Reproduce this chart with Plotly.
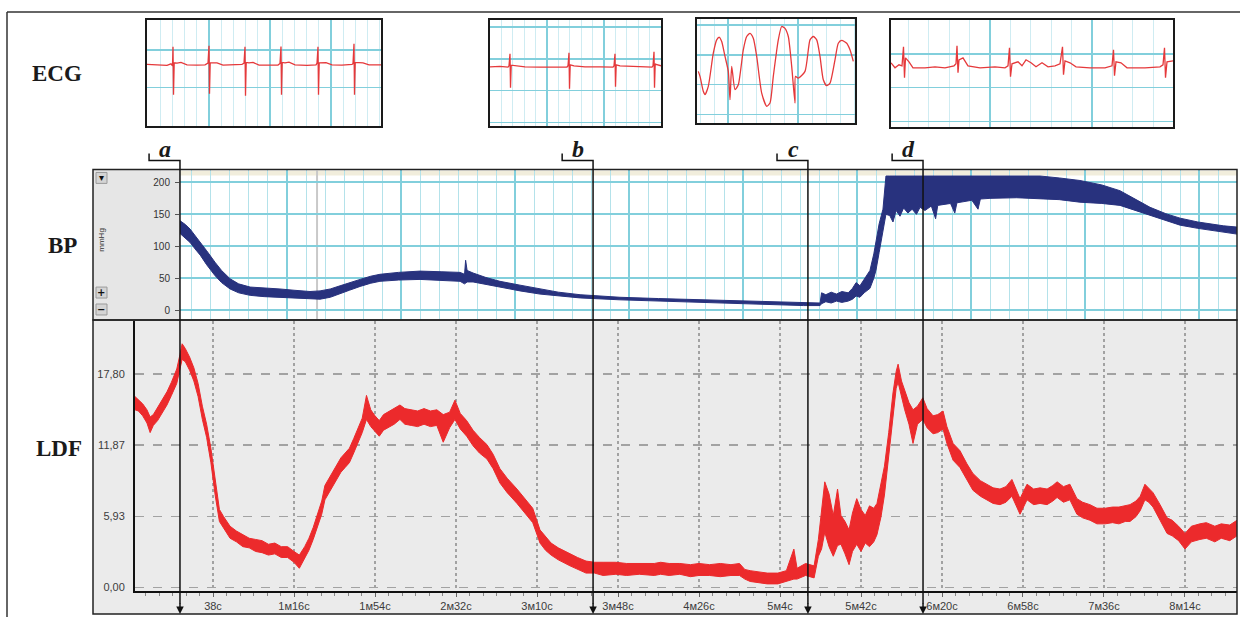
import plotly.graph_objects as go

W, H = 1240, 619


def px(x):
    return x / W


def py(y):
    return 1 - y / H


# ---------------- LDF (perfusion units) : time [s], lower / upper envelope ----------------
ldf_t = [1.4, 3, 5, 7, 8.5, 10, 12, 14, 16.4, 18.5, 21, 22.5, 23.5, 25, 27, 29, 31, 33, 35, 37,
         39, 41, 43, 46, 49, 52, 55, 58, 61, 64, 67, 70, 73, 76, 78.5, 81, 83, 85, 87, 89,
         90.5, 92.5, 94.3, 96, 98, 100, 102, 104, 106, 108, 110, 112, 114, 116, 118, 120, 123, 125.7, 128, 131,
         134, 137, 140, 143, 146, 149, 151.5, 154, 157, 160, 163, 166.5, 169.4, 172.6, 176, 180.6, 185.3, 188, 191.4, 194,
         196.6, 200, 205.5, 209, 213, 217, 221, 227, 232, 238, 245, 248, 252, 257, 262, 266, 271, 276, 281, 285,
         287.5, 290, 294, 298, 303, 307, 310.5, 312, 316, 320, 322, 323.5, 325, 327, 329, 331, 332.6, 334.5, 336.4, 338,
         340, 342, 344, 346, 348, 349.5, 351.4, 353, 355, 357, 358.5, 359.4, 361, 362.5, 364.5, 366.4, 368.5, 371, 373, 375.8,
         378, 380.5, 382.3, 385.2, 388.4, 391.7, 394.5, 398, 401, 404, 407.2, 410, 412.8, 415, 416.6, 419.9, 423, 426, 429.3, 432,
         434, 437, 440, 443.3, 446, 449.4, 452.7, 456.5, 460, 463, 466, 468.2, 471, 473, 475.2, 477, 479, 482.3, 485.6, 488,
         491, 494, 497, 501, 504, 508, 511, 515, 518.4]
ldf_lo = [14.8, 14.7, 14.3, 13.7, 12.9, 13.5, 13.9, 14.5, 15.2, 16.0, 17.0, 18.2, 19.0, 18.8, 18.1, 17.2, 15.9, 14.0, 12.5, 10.4,
          7.7, 5.5, 4.9, 4.1, 3.8, 3.4, 3.3, 3.0, 2.9, 2.7, 2.8, 2.5, 2.5, 2.1, 1.6, 2.4, 3.1, 4.0, 5.0, 6.1,
          7.3, 7.9, 8.4, 9.0, 9.6, 10.0, 10.4, 11.2, 12.0, 12.9, 14.0, 13.4, 13.0, 12.6, 13.1, 13.3, 13.6, 14.0, 13.6, 13.5,
          13.4, 13.6, 13.4, 13.5, 12.1, 13.3, 14.0, 13.2, 12.6, 11.8, 11.2, 10.7, 9.9, 8.7, 7.9, 7.0, 6.0, 5.4, 3.7, 3.1,
          2.7, 2.3, 1.8, 1.5, 1.2, 1.2, 1.0, 1.1, 1.0, 1.1, 1.0, 1.1, 1.0, 1.1, 0.9, 1.0, 1.0, 0.9, 1.0, 1.0,
          0.7, 0.5, 0.4, 0.3, 0.3, 0.5, 0.7, 0.7, 1.0, 0.8, 2.6, 3.2, 4.6, 3.4, 2.6, 3.5, 3.6, 2.8, 1.9, 3.0,
          3.6, 3.0, 3.7, 3.4, 3.8, 4.4, 5.9, 7.7, 10.9, 14.6, 16.6, 17.1, 15.8, 14.8, 13.6, 12.0, 13.6, 14.0, 13.3, 12.8,
          12.9, 13.2, 12.0, 10.6, 10.0, 8.9, 8.1, 7.6, 7.3, 7.0, 6.9, 7.1, 7.6, 6.8, 6.1, 7.3, 6.9, 7.0, 6.9, 7.2,
          7.5, 7.1, 7.3, 6.1, 5.8, 5.6, 5.3, 5.3, 5.4, 5.3, 5.5, 5.5, 5.9, 6.4, 7.3, 7.1, 6.7, 5.6, 4.5, 4.3,
          3.9, 3.2, 3.8, 4.0, 4.1, 3.8, 4.1, 3.9, 4.3]
ldf_hi = [15.9, 15.6, 15.3, 14.8, 14.2, 14.4, 15.0, 15.6, 16.3, 17.1, 18.2, 19.4, 20.3, 19.9, 19.2, 18.3, 17.0, 15.1, 13.6, 11.6,
          8.8, 6.5, 5.9, 5.1, 4.7, 4.4, 4.1, 4.0, 3.9, 3.6, 3.7, 3.4, 3.4, 3.0, 2.7, 3.4, 4.1, 5.0, 6.1, 7.2,
          8.5, 9.1, 9.6, 10.2, 10.8, 11.2, 11.6, 12.4, 13.2, 14.1, 16.0, 14.8, 14.3, 13.9, 14.4, 14.6, 14.9, 15.2, 14.9, 14.8,
          14.7, 14.9, 14.7, 14.8, 14.4, 14.6, 15.6, 14.5, 13.9, 13.1, 12.5, 11.9, 11.1, 9.9, 9.1, 8.2, 7.2, 6.6, 4.8, 4.2,
          3.7, 3.3, 2.8, 2.5, 2.2, 2.1, 2.1, 2.1, 2.0, 2.0, 2.0, 2.1, 2.0, 2.0, 1.9, 2.0, 1.9, 2.0, 1.9, 2.0,
          1.5, 1.4, 1.3, 1.2, 1.2, 1.4, 3.2, 1.6, 2.0, 1.8, 4.0, 6.5, 8.8, 7.8, 6.0, 8.2, 6.0, 5.5, 4.8, 6.2,
          7.4, 6.5, 6.0, 6.8, 6.6, 7.0, 8.6, 10.1, 12.9, 16.2, 18.0, 18.6, 17.2, 16.4, 15.4, 14.8, 15.1, 15.8, 14.9, 14.3,
          14.4, 14.7, 13.4, 12.0, 11.4, 10.3, 9.5, 8.9, 8.6, 8.3, 8.2, 8.4, 9.0, 8.0, 7.4, 8.6, 8.2, 8.3, 8.2, 8.5,
          8.8, 8.4, 8.6, 7.4, 7.1, 6.9, 6.6, 6.6, 6.7, 6.7, 6.8, 6.9, 7.2, 7.6, 8.6, 8.3, 7.9, 6.9, 5.8, 5.6,
          5.1, 4.5, 5.1, 5.3, 5.4, 5.1, 5.3, 5.2, 5.6]

# ---------------- BP (mmHg): time [s], diastolic / systolic envelope ----------------
bp_t = [22.5, 25, 27.2, 30, 32, 35, 38.9, 42, 46, 50, 55.4, 62, 69.4, 76, 83.5, 88.2, 93, 97.6, 102, 107,
        112, 116.3, 125, 135.1, 145, 153.9, 156.0, 156.5, 157.2, 160, 166, 172.6, 182, 191.4, 200, 210.2, 228.9, 247, 266.5, 294.6,
        315, 322.8, 323.5, 325.5, 328, 330.5, 333, 336, 338, 339.7, 341.5, 343.5, 346.2, 348, 349, 350.5, 352.3, 353.7, 355.5, 357,
        358.5, 360.3, 362, 364, 366, 368, 369.7, 372, 375, 377, 378, 384, 386, 387, 394, 396.9, 398, 402.5, 415, 426,
        435, 444.7, 455, 463.5, 470, 477.6, 485, 491.7, 500, 505.7, 512, 518.4]
bp_lo = [120, 113, 106, 94, 86, 71, 54, 43, 33, 27, 23, 21, 20, 19, 17, 17, 20, 25, 31, 37,
         42, 45, 47, 48, 47, 45, 41, 42, 44, 44, 40, 36, 30, 25, 22, 19, 16, 14, 12, 9,
         7, 7, 10, 13, 11, 14, 12, 14, 17, 22, 20, 27, 34, 50, 62, 90, 122, 150, 148, 138,
         156, 147, 160, 152, 158, 150, 161, 156, 163, 143, 164, 167, 152, 168, 172, 158, 174, 175, 176, 175,
         173, 169, 167, 164, 157, 148, 140, 133, 128, 125, 122, 119]
bp_hi = [140, 134, 127, 115, 107, 93, 75, 62, 49, 41, 36, 35, 33, 31, 29, 30, 33, 38, 43, 48,
         53, 56, 59, 61, 60, 59, 56, 78, 62, 58, 51, 45, 39, 33, 28, 24, 20, 18, 16, 13,
         11, 11, 27, 24, 28, 25, 29, 27, 34, 43, 38, 49, 62, 88, 108, 135, 158, 210, 210, 210,
         210, 210, 210, 210, 210, 210, 210, 210, 210, 210, 210, 210, 210, 210, 210, 210, 210, 210, 210, 210,
         207, 203, 196, 187, 175, 161, 151, 144, 138, 135, 132, 130]

# ---------------- ECG snippets: time [s], voltage [mV] ----------------
ecg1_t = [0.00, 0.10, 0.20, 0.24, 0.255, 0.26, 0.265, 0.272, 0.30, 0.34, 0.40, 0.50, 0.58, 0.61, 0.62, 0.625, 0.632, 0.66,
          0.70, 0.76, 0.86, 0.95, 0.97, 0.98, 0.985, 0.992, 1.02, 1.06, 1.12, 1.22, 1.31, 1.33, 1.34, 1.345, 1.352, 1.38,
          1.42, 1.48, 1.60, 1.69, 1.70, 1.71, 1.715, 1.722, 1.75, 1.79, 1.85, 1.95, 2.05, 2.06, 2.07, 2.075, 2.082, 2.12,
          2.16, 2.22, 2.34]
ecg1_v = [0.02, 0.00, -0.03, 0.05, -0.05, 0.90, -1.50, 0.10, 0.08, 0.12, 0.00, -0.02, 0.00, 0.08, 0.95, -1.45, 0.10, 0.10,
          0.10, -0.02, 0.00, 0.02, 0.08, 0.90, -1.55, 0.12, 0.10, 0.12, -0.02, 0.00, -0.01, 0.07, 0.92, -1.50, 0.12, 0.10,
          0.13, 0.00, -0.03, 0.00, 0.08, 0.90, -1.50, 0.10, 0.10, 0.11, 0.00, -0.02, 0.02, 0.06, 1.05, -1.50, 0.12, 0.10,
          0.10, 0.00, 0.00]
ecg2_t = [0.00, 0.10, 0.18, 0.19, 0.20, 0.205, 0.212, 0.25, 0.35, 0.50, 0.65, 0.77, 0.78, 0.79, 0.795, 0.802, 0.84,
          0.95, 1.10, 1.23, 1.24, 1.25, 1.255, 1.262, 1.30, 1.45, 1.62, 1.63, 1.64, 1.645, 1.652, 1.66, 1.71]
ecg2_v = [0.00, 0.02, -0.02, 0.05, 0.65, -1.05, 0.08, 0.05, 0.00, -0.02, 0.00, -0.01, 0.05, 0.70, -1.10, 0.10, 0.05,
          0.00, 0.00, -0.02, 0.05, 0.65, -1.00, 0.10, 0.05, 0.00, -0.02, 0.05, 0.75, -1.05, 0.15, 0.12, 0.05]
ecg3_t = [0.013, 0.03, 0.063, 0.08, 0.113, 0.163, 0.197, 0.223, 0.247, 0.28, 0.313, 0.33, 0.347, 0.38, 0.413, 0.463,
          0.497, 0.53, 0.563, 0.597, 0.647, 0.697, 0.73, 0.763, 0.813, 0.847, 0.88, 0.913, 0.947, 0.98, 0.985, 1.013,
          1.08, 1.13, 1.163, 1.197, 1.23, 1.263, 1.297, 1.33, 1.38, 1.413, 1.447, 1.497, 1.53, 1.563]
ecg3_v = [-0.03, -0.28, -1.03, -1.20, -0.78, 0.88, 1.55, 1.68, 1.47, 0.72, -0.03, -1.45, 0.22, -0.95, -0.70, 1.05,
          1.72, 1.88, 1.63, 0.72, -1.12, -1.78, -1.62, -0.28, 1.55, 2.22, 2.13, 1.72, 0.22, -1.62, -0.28, -0.37,
          -0.03, 1.55, 1.72, 1.55, 0.72, -0.45, -0.75, -0.62, 0.55, 1.38, 1.52, 1.38, 1.05, 0.47]
ecg4_t = [0.00, 0.04, 0.08, 0.11, 0.125, 0.135, 0.145, 0.18, 0.22, 0.34, 0.44, 0.54, 0.63, 0.65, 0.66, 0.67, 0.68, 0.72,
          0.77, 0.89, 1.04, 1.14, 1.17, 1.185, 1.195, 1.21, 1.27, 1.31, 1.35, 1.40, 1.45, 1.51, 1.57, 1.64, 1.69, 1.715,
          1.725, 1.74, 1.79, 1.85, 1.99, 2.14, 2.21, 2.225, 2.235, 2.25, 2.30, 2.36, 2.54, 2.69, 2.72, 2.735, 2.745, 2.76,
          2.82]
ecg4_v = [0.20, -0.05, 0.10, 0.05, 1.00, -0.55, 0.45, 0.25, -0.05, -0.05, 0.00, -0.05, 0.05, 0.15, 1.05, -0.30, 0.35, 0.45,
          0.05, -0.05, 0.00, -0.05, 0.05, 0.95, -0.50, 0.15, 0.25, 0.05, 0.35, 0.20, 0.00, 0.20, 0.00, 0.05, 0.15, 1.00,
          -0.40, 0.30, 0.20, 0.00, -0.05, -0.05, 0.05, 0.85, -0.45, 0.25, 0.20, -0.05, -0.05, 0.00, 0.10, 0.95, -0.55, 0.25,
          0.30]

# ---------------- markers and tick labels ----------------
marker_t = [22.5, 216.3, 317.1, 371.1]
marker_lbl = ["a", "b", "c", "d"]

time_tickvals = [38, 76, 114, 152, 190, 228, 266, 304, 342, 380, 418, 456, 494]
time_ticktext = ["38с", "1м16с", "1м54с", "2м32с", "3м10с", "3м48с", "4м26с",
                 "5м4с", "5м42с", "6м20с", "6м58с", "7м36с", "8м14с"]
ldf_tickvals = [0, 5.93, 11.87, 17.80]
ldf_ticktext = ["0,00", "5,93", "11,87", "17,80"]
bp_tickvals = [0, 50, 100, 150, 200]

assert len(ldf_t) == len(ldf_lo) == len(ldf_hi)
assert len(bp_t) == len(bp_lo) == len(bp_hi)
assert len(ecg1_t) == len(ecg1_v) and len(ecg2_t) == len(ecg2_v)
assert len(ecg3_t) == len(ecg3_v) and len(ecg4_t) == len(ecg4_v)

RED = "#ec2a2c"
NAVY = "#28327e"
ECG_RED = "#e5393b"
CYAN = "#82cfdc"
CYAN_L = "#b4e2ea"

fig = go.Figure()

# LDF band
fig.add_trace(go.Scatter(x=ldf_t, y=ldf_lo, mode="lines", line=dict(color=RED, width=1),
                         xaxis="x", yaxis="y", hoverinfo="skip"))
fig.add_trace(go.Scatter(x=ldf_t, y=ldf_hi, mode="lines", line=dict(color=RED, width=1),
                         fill="tonexty", fillcolor=RED, xaxis="x", yaxis="y", hoverinfo="skip"))
# BP band
fig.add_trace(go.Scatter(x=bp_t, y=bp_lo, mode="lines", line=dict(color=NAVY, width=1),
                         xaxis="x2", yaxis="y2", hoverinfo="skip"))
fig.add_trace(go.Scatter(x=bp_t, y=bp_hi, mode="lines", line=dict(color=NAVY, width=1),
                         fill="tonexty", fillcolor=NAVY, xaxis="x2", yaxis="y2", hoverinfo="skip"))
# ECG snippets
ecg_series = [(ecg1_t, ecg1_v, "linear"), (ecg2_t, ecg2_v, "linear"),
              (ecg3_t, ecg3_v, "spline"), (ecg4_t, ecg4_v, "linear")]
for i, (tt, vv, shp) in enumerate(ecg_series):
    n = i + 3
    fig.add_trace(go.Scatter(x=tt, y=vv, mode="lines",
                             line=dict(color=ECG_RED, width=1.3, shape=shp, smoothing=0.6),
                             xaxis=f"x{n}", yaxis=f"y{n}", hoverinfo="skip"))

tickfont = dict(family="Liberation Sans", size=11, color="#3c3c3c")

layout = dict(
    width=W, height=H, autosize=False,
    margin=dict(l=0, r=0, t=0, b=0),
    paper_bgcolor="white", plot_bgcolor="rgba(0,0,0,0)",
    showlegend=False, hovermode=False, dragmode=False,
    xaxis=dict(domain=[px(135), px(1237)], range=[1.4, 518.4], anchor="y",
               tickmode="array", tickvals=time_tickvals, ticktext=time_ticktext,
               ticks="outside", ticklen=4, tickcolor="#666", tickfont=tickfont,
               showgrid=True, gridcolor="#a2a2a2", griddash="dot", gridwidth=1.5,
               minor=dict(tickmode="linear", tick0=0, dtick=38 / 6, ticks="outside",
                          ticklen=3, tickcolor="#888", showgrid=False),
               showline=True, linecolor="#111", linewidth=2, zeroline=False, fixedrange=True),
    yaxis=dict(domain=[py(593), py(322)], range=[-0.3, 22.2], anchor="x",
               tickmode="array", tickvals=ldf_tickvals, ticktext=ldf_ticktext,
               ticks="", tickfont=tickfont, ticklabelstandoff=6,
               showgrid=True, gridcolor="#a2a2a2", griddash="dash", gridwidth=1.5,
               showline=True, linecolor="#111", linewidth=2, zeroline=False, fixedrange=True),
    xaxis2=dict(domain=[px(180), px(1237)], range=[22.5, 518.4], anchor="y2",
                showticklabels=False, ticks="", tickmode="linear", tick0=72.7, dtick=53.5,
                showgrid=True, gridcolor=CYAN, gridwidth=2,
                minor=dict(tickmode="linear", tick0=72.7, dtick=53.5 / 6, showgrid=True,
                           gridcolor=CYAN_L, gridwidth=1),
                showline=False, zeroline=False, fixedrange=True),
    yaxis2=dict(domain=[py(320), py(171)], range=[-14, 218.75], anchor="x2",
                tickmode="array", tickvals=bp_tickvals, ticks="outside", ticklen=4,
                tickcolor="#555", ticklabelstandoff=3,
                tickfont=dict(family="Liberation Sans", size=10, color="#333"),
                showgrid=True, gridcolor=CYAN, gridwidth=2,
                showline=False, zeroline=False, fixedrange=True),
)

ecg_boxes = [
    # n, x0, x1, ytop, ybottom, xrange, yrange, xtick0, xdtick, xminor, ytick0, ydtick
    (3, 147, 381, 20, 126, [0, 2.34], [-3.05, 2.25], 0.62, 0.61, 0.122, -1.15, 1.9),
    (4, 490, 661, 20, 126, [0, 1.71], [-2.95, 2.35], 0.0, 0.57, 0.114, -1.2, 1.6),
    (5, 697, 855, 19, 123, [0, 1.58], [-2.6, 2.6], 0.31, 0.70, 0.14, 0.8, 1.5),
    (6, 891, 1173, 20, 127, [0, 2.82], [-3.0, 2.35], 0.99, 1.02, 0.204, -1.05, 1.7),
]
for n, x0, x1, yt, yb, xr, yr, xt0, xdt, xmdt, yt0, ydt in ecg_boxes:
    layout[f"xaxis{n}"] = dict(domain=[px(x0), px(x1)], range=xr, anchor=f"y{n}",
                               showticklabels=False, ticks="", tickmode="linear", tick0=xt0, dtick=xdt,
                               showgrid=True, gridcolor=CYAN, gridwidth=1.5,
                               minor=dict(tickmode="linear", tick0=xt0, dtick=xmdt, showgrid=True,
                                          gridcolor="#cfecf2", gridwidth=1),
                               showline=True, mirror=True, linecolor="#1a1a1a", linewidth=2,
                               zeroline=False, fixedrange=True)
    layout[f"yaxis{n}"] = dict(domain=[py(yb), py(yt)], range=yr, anchor=f"x{n}",
                               showticklabels=False, ticks="", tickmode="linear", tick0=yt0, dtick=ydt,
                               showgrid=True, gridcolor=CYAN, gridwidth=1.5,
                               showline=True, mirror=True, linecolor="#1a1a1a", linewidth=2,
                               zeroline=False, fixedrange=True)

shapes = []
# outer frame (top and left rules)
shapes.append(dict(type="line", xref="paper", yref="paper", x0=px(7), x1=1, y0=py(12), y1=py(12),
                   line=dict(color="#333", width=1.5)))
shapes.append(dict(type="line", xref="paper", yref="paper", x0=px(7), x1=px(7), y0=py(12), y1=0,
                   line=dict(color="#333", width=1.5)))
# LDF panel background + frame
shapes.append(dict(type="rect", xref="paper", yref="paper", x0=px(93), x1=px(1237), y0=py(616), y1=py(321),
                   fillcolor="#ebebeb", line=dict(width=0), layer="below"))
shapes.append(dict(type="rect", xref="paper", yref="paper", x0=px(93), x1=px(1237), y0=py(616), y1=py(321),
                   fillcolor="rgba(0,0,0,0)", line=dict(color="#222", width=1.5)))
# BP panel: left control strip, beige header strip, cursor line, frame
shapes.append(dict(type="rect", xref="paper", yref="paper", x0=px(93), x1=px(180), y0=py(321), y1=py(170),
                   fillcolor="#e6e6e6", line=dict(width=0), layer="below"))
shapes.append(dict(type="rect", xref="x2", yref="y2", x0=22.5, x1=518.4, y0=211, y1=218.75,
                   fillcolor="#f1eddc", line=dict(width=0), layer="below"))
shapes.append(dict(type="line", xref="x2", yref="y2", x0=86.8, x1=86.8, y0=-14, y1=218.75,
                   line=dict(color="#c9c9c9", width=2), layer="below"))
shapes.append(dict(type="rect", xref="paper", yref="paper", x0=px(93), x1=px(1237), y0=py(321), y1=py(170),
                   fillcolor="rgba(0,0,0,0)", line=dict(color="#222", width=1.5)))
# BP control buttons
for (bx0, by0, bx1, by1) in [(96, 173, 107, 184), (96, 288, 107, 299), (96, 305, 107, 316)]:
    shapes.append(dict(type="rect", xref="paper", yref="paper", x0=px(bx0), x1=px(bx1), y0=py(by1), y1=py(by0),
                       fillcolor="#d4d4d4", line=dict(color="#9a9a9a", width=1)))

annotations = []
for txt, bx, by in [("▾", 101.5, 178.5), ("+", 101.5, 293.5), ("−", 101.5, 310.5)]:
    annotations.append(dict(x=px(bx), y=py(by), xref="paper", yref="paper", text=f"<b>{txt}</b>",
                            xanchor="center", yanchor="middle",
                            showarrow=False, font=dict(family="DejaVu Sans", size=10, color="#111")))
annotations.append(dict(x=px(101.5), y=py(240), xref="paper", yref="paper", text="mmHg", textangle=-90,
                        xanchor="center", yanchor="middle",
                        showarrow=False, font=dict(family="Liberation Sans", size=8, color="#333")))

# big row labels
for txt, lx, ly in [("ECG", 57, 74), ("BP", 62, 246), ("LDF", 59, 450)]:
    annotations.append(dict(x=px(lx), y=py(ly), xref="paper", yref="paper", text=f"<b>{txt}</b>",
                            xanchor="center", yanchor="middle",
                            showarrow=False, font=dict(family="Liberation Serif", size=23, color="#1a1a1a")))

# event markers a-d
for t, lbl in zip(marker_t, marker_lbl):
    left = t - 14.5
    path = (f"M {left},{py(154)} L {left},{py(161)} L {t},{py(161)} L {t},{py(606)}")
    shapes.append(dict(type="path", path=path, xref="x", yref="paper",
                       line=dict(color="#111", width=1.5), layer="above"))
    annotations.append(dict(x=t, y=py(616), xref="x", yref="paper", ax=0, ay=-12, text="",
                            showarrow=True, arrowhead=2, arrowsize=1, arrowwidth=1.5, arrowcolor="#111"))
    annotations.append(dict(x=t - 7, y=py(165), xref="x", yref="paper", xanchor="center", yanchor="bottom",
                            text=f"<b><i>{lbl}</i></b>", showarrow=False,
                            font=dict(family="Liberation Serif", size=24, color="#1a1a1a")))

layout["shapes"] = shapes
layout["annotations"] = annotations
fig.update_layout(**layout)

fig.write_html("out.html", config={"displayModeBar": False, "staticPlot": True},
               post_script="document.body.style.margin='0';document.body.style.overflow='hidden';")
